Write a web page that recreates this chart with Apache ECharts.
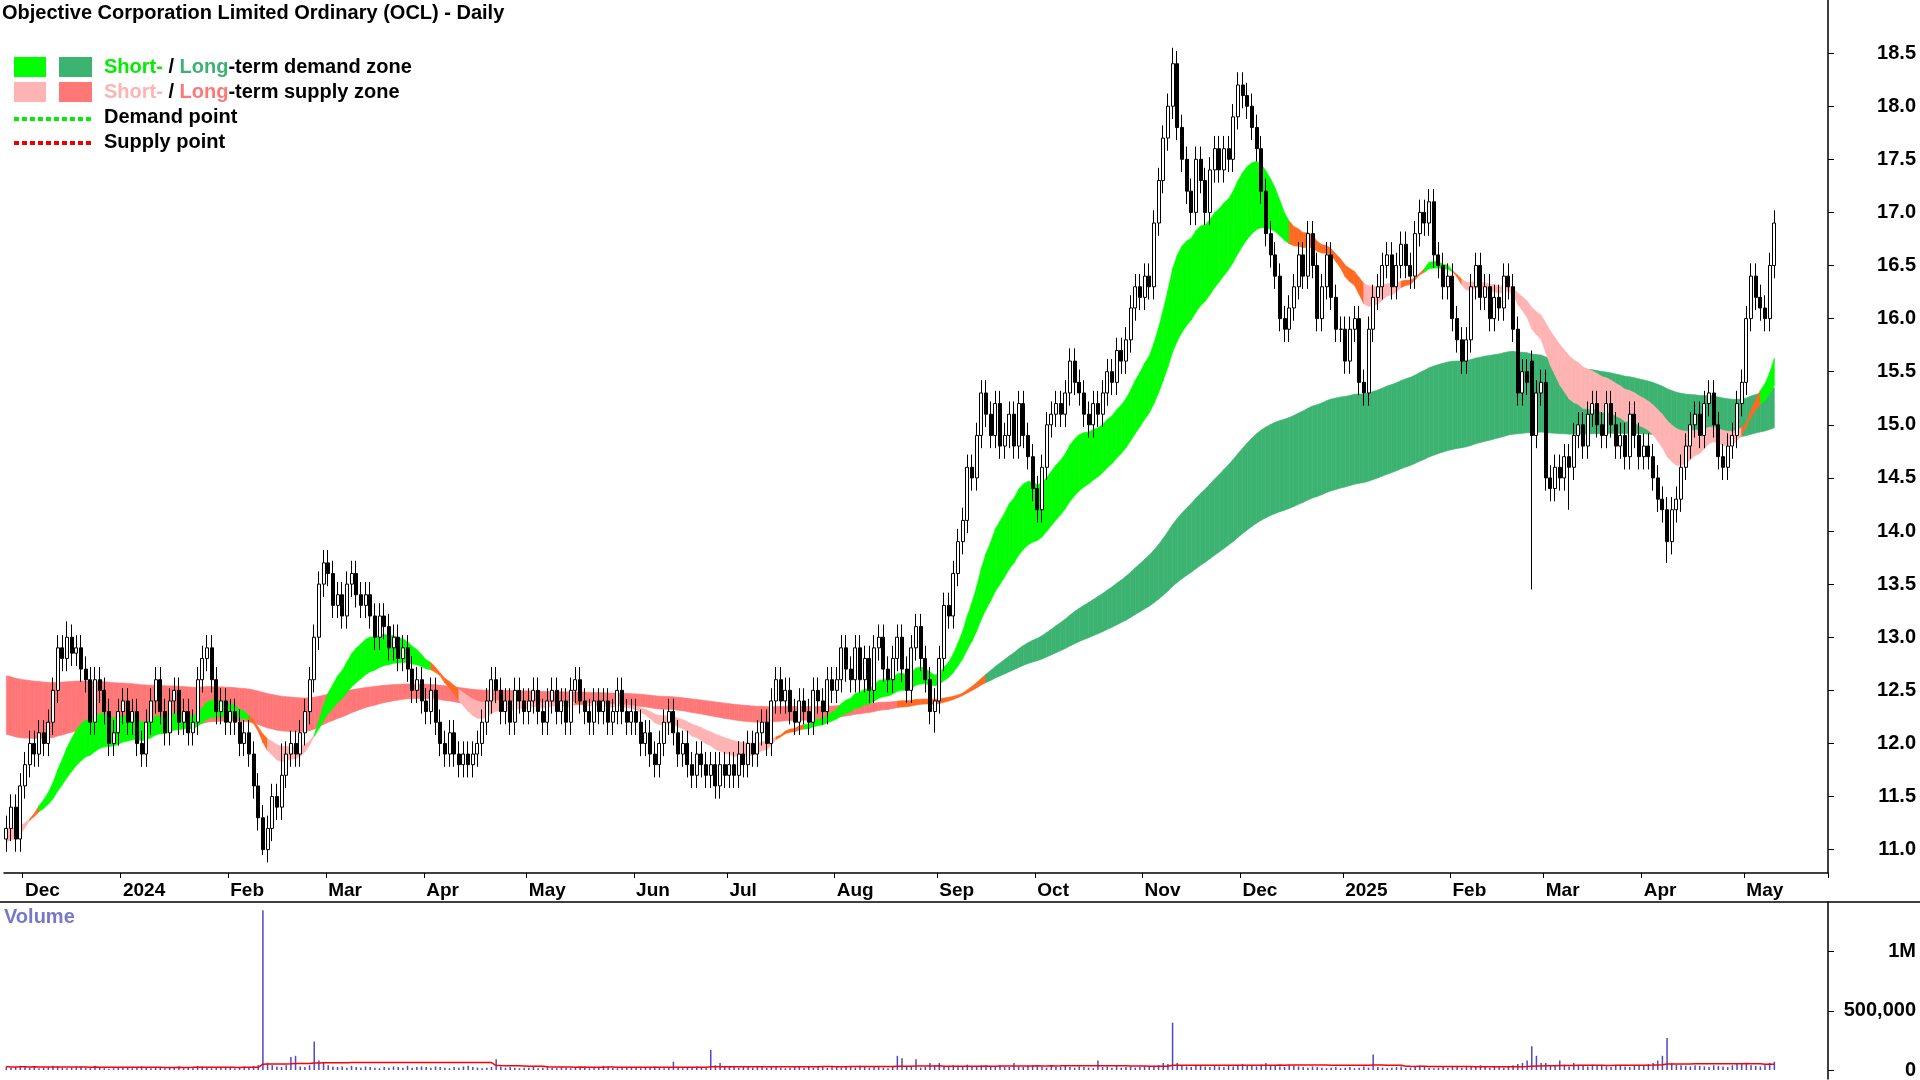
<!DOCTYPE html>
<html><head><meta charset="utf-8">
<script src="https://cdn.jsdelivr.net/npm/echarts@6/dist/echarts.min.js"></script>
<style>html,body{margin:0;padding:0;background:#fff}#c{width:1920px;height:1080px}</style>
</head><body><div id="c"></div>
<script>
// ---- Daily closes by month ----
const m2311=[11.2,11.4,11.1,11.6];
const m2312=[11.8,12.0,11.9,12.1,12.0,12.2,12.5,12.9,12.8,13.0,12.85,12.9,12.7,12.6,12.2,12.6,12.5,12.3,12.0,12.1,12.3];
const m2401=[12.4,12.2,12.3,12.0,11.9,12.2,12.4,12.6,12.3,12.1,12.4,12.5,12.2,12.3,12.1,12.2,12.6,12.8,12.9,12.6,12.3,12.4,12.2];
const m2402=[12.3,12.2,12.0,12.1,11.9,11.6,11.3,11.0,11.2,11.5,11.4,11.7,11.9,12.0,11.9,12.1,12.3,12.6,13.0,13.5,13.7];
const m2403=[13.6,13.3,13.4,13.2,13.5,13.6,13.4,13.3,13.4,13.2,13.0,13.2,13.1,12.9,13.0,12.8,12.9,12.7,12.5,12.6,12.4];
const m2404=[12.3,12.5,12.2,12.0,11.9,12.1,11.9,11.8,11.9,11.8,11.9,12.0,12.2,12.4,12.6,12.5,12.3,12.4,12.2,12.5,12.4,12.3];
const m2405=[12.4,12.5,12.3,12.2,12.4,12.5,12.3,12.4,12.2,12.5,12.6,12.4,12.3,12.2,12.4,12.3,12.4,12.2,12.3,12.5,12.3,12.2,12.3];
const m2406=[12.2,12.0,12.1,11.9,11.8,12.0,12.2,12.3,12.1,11.9,12.0,11.8,11.7,11.9,11.8,11.7,11.8,11.6,11.8,11.7];
const m2407=[11.8,11.7,11.9,11.8,12.0,11.9,12.1,12.2,12.0,12.4,12.6,12.4,12.5,12.3,12.2,12.4,12.3,12.2,12.5,12.4,12.3,12.6,12.5];
const m2408=[12.6,12.9,12.7,12.6,12.9,12.6,12.8,12.5,12.9,13.0,12.7,12.6,12.8,13.0,12.7,12.5,12.9,13.1,12.8,12.6,12.3,12.4];
const m2409=[12.8,13.3,13.2,13.6,13.9,14.1,14.6,14.5,14.9,15.3,15.1,14.9,15.2,14.8,14.9,15.1,14.8,15.2,14.9,14.7,14.4];
const m2410=[14.2,14.6,15.0,15.1,15.2,15.1,15.3,15.6,15.4,15.3,15.1,15.0,15.2,15.1,15.3,15.5,15.4,15.7,15.6,15.8,16.1,16.3,16.2];
const m2411=[16.4,16.3,16.9,17.3,17.7,18.0,18.4,17.8,17.5,17.2,17.0,17.5,17.3,17.0,17.4,17.6,17.4,17.6,17.5,17.9,18.2];
const m2412=[18.1,18.0,17.8,17.6,17.2,16.8,16.6,16.4,16.0,15.9,16.1,16.3,16.6,16.4,16.8,16.5,16.0,16.3,16.6,16.2,15.9,15.9];
const m2501=[15.6,15.9,16.0,15.4,15.3,15.9,16.2,16.3,16.5,16.6,16.3,16.5,16.7,16.5,16.4,16.8,17.0,16.9,17.1,16.6,16.5,16.3,16.4];
const m2502=[16.0,15.8,15.6,15.8,16.3,16.5,16.2,16.3,16.0,16.2,16.1,16.4,16.3,15.9,15.3,15.5,15.4,14.9,15.3,15.4];
const m2503=[14.5,14.4,14.6,14.5,14.7,14.6,14.9,15.0,14.8,15.1,15.2,15.0,14.9,15.2,15.0,14.8,14.9,14.7,15.1,14.9,14.7];
const m2504=[14.8,14.7,14.5,14.3,14.2,13.9,14.2,14.3,14.6,14.8,15.0,15.1,14.9,15.2,15.3,15.0,14.7,14.6,14.8,14.9,15.2,15.4];
const m2505=[16.0,16.4,16.2,16.1,16.0,16.5,16.9];
// ---- Daily volume (thousands) ----
const v2311=[30,20,25,35];
const v2312=[25,20,30,15,20,25,35,30,20,15,20,25,30,20,15,35,20,15,10,15,20];
const v2401=[20,25,15,20,30,20,15,25,20,15,20,25,30,15,20,25,35,30,20,15,20,25,20];
const v2402=[20,15,25,30,20,35,40,1350,60,40,30,25,40,110,120,30,25,40,240,80,60];
const v2403=[40,30,25,30,20,35,25,20,30,25,20,15,25,20,30,25,20,35,20,25,30];
const v2404=[25,20,30,25,20,15,25,20,30,35,25,20,15,20,25,90,30,20,25,20,15,20];
const v2405=[20,25,15,20,30,20,15,25,20,15,20,25,30,15,20,25,35,30,20,15,20,25,20];
const v2406=[20,15,25,20,30,20,15,25,70,20,15,20,25,30,20,25,170,40,60,30];
const v2407=[30,25,20,30,25,20,35,25,20,30,25,20,15,20,25,30,20,35,20,25,30,20,25];
const v2408=[25,20,30,25,20,35,25,20,30,25,20,15,25,120,100,30,25,90,20,25,60,40];
const v2409=[60,30,25,40,35,30,45,30,25,40,35,30,25,40,30,25,60,30,25,35,40];
const v2410=[30,25,20,35,25,30,40,25,20,30,25,20,15,80,25,30,20,35,20,25,30,20,25];
const v2411=[30,25,35,40,60,50,400,60,40,30,25,40,35,30,25,40,30,25,35,30,40];
const v2412=[50,40,35,30,45,60,40,35,30,25,40,35,30,25,20,30,25,20,15,20,25,15];
const v2501=[20,25,15,20,30,20,130,25,20,15,20,25,30,15,20,25,35,30,20,15,20,25,20];
const v2502=[30,25,20,35,25,30,40,25,20,30,25,20,35,40,50,60,80,200,120,60];
const v2503=[60,40,35,80,45,30,60,40,35,30,45,40,35,30,25,40,35,30,25,40,35];
const v2504=[40,50,60,80,120,270,60,45,40,35,30,40,35,30,25,40,35,30,25,40,60,50];
const v2505=[50,40,35,30,40,60,70];
// notable wick extremes [index, high, low]
const wickExtremes=[[55,null,10.95],[250,18.55,null],[327,15.7,13.45],[356,null,13.7],[199,null,12.1],[59,12.0,null],[13,13.15,null],[335,null,14.2]];
const wickSize=0.12;
const shortPeriods=[20,23,26,30,35,40], shortSeeds=[11.05,11.08,11.11,11.14,11.17,11.2];
const longPeriods=[130,145,160,175,195,230], longSeeds=[12.1,12.2,12.3,12.4,12.52,12.65];
const priceTicks=[11,11.5,12,12.5,13,13.5,14,14.5,15,15.5,16,16.5,17,17.5,18,18.5];
const volTicks=[0,500000,1000000];

const closes=[].concat(m2311,m2312,m2401,m2402,m2403,m2404,m2405,m2406,m2407,m2408,m2409,m2410,m2411,m2412,m2501,m2502,m2503,m2504,m2505);
const vols=[].concat(v2311,v2312,v2401,v2402,v2403,v2404,v2405,v2406,v2407,v2408,v2409,v2410,v2411,v2412,v2501,v2502,v2503,v2504,v2505).map(v=>v*1000);
const N=closes.length, PAD=11;
const dates=[];let d=new Date(Date.UTC(2023,10,27));
while(dates.length<N){const wd=d.getUTCDay();if(wd>0&&wd<6)dates.push(new Date(d));d=new Date(d.getTime()+864e5);}
const MN=['Jan','Feb','Mar','Apr','May','Jun','Jul','Aug','Sep','Oct','Nov','Dec'];
const cats=[],labelMap={};
for(let i=0;i<N+PAD;i++){cats.push(String(i));}
for(let i=1;i<N;i++){if(dates[i].getUTCMonth()!==dates[i-1].getUTCMonth()){const m=dates[i].getUTCMonth();labelMap[i]=m===0?String(dates[i].getUTCFullYear()):MN[m];}}
const candles=[];
for(let i=0;i<N;i++){const o=i?closes[i-1]:closes[0]-0.1,c=closes[i];candles.push([o,c,Math.min(o,c)-wickSize,Math.max(o,c)+wickSize]);}
wickExtremes.forEach(([i,h,l])=>{if(h!=null)candles[i][3]=h;if(l!=null)candles[i][2]=l;if(i===327){candles[i][0]=15.6;}});
function emas(periods,seeds){return periods.map((p,k)=>{const a=2/(p+1);let e=seeds[k];return closes.map(c=>(e=e+a*(c-e)));});}
const S=emas(shortPeriods,shortSeeds),L=emas(longPeriods,longSeeds);
// state: 1 = all ordered up (demand), -1 = all ordered down (supply), 0 = tangled
function band(E){const lo=[],hi=[],st=[];for(let i=0;i<N;i++){const v=E.map(e=>e[i]);lo.push(Math.min(...v));hi.push(Math.max(...v));
 let up=true,dn=true;for(let k=0;k<v.length-1;k++){if(v[k]<v[k+1])up=false;if(v[k]>v[k+1])dn=false;}st.push(up?1:dn?-1:0);}return{lo,hi,st};}
const SB=band(S),LB=band(L);
const C={sd:'#00ff00',ld:'#3cb371',ss:'#ffb3b3',ls:'#ff7777',ov:'#ff6a22'};
function segs(B,cd,cs){const r=[];for(let i=0;i<N-1;i++)r.push([i,B.lo[i],B.hi[i],B.lo[i+1],B.hi[i+1],B.st[i]===1?cd:B.st[i]===-1?cs:C.ov]);return r;}
const longData=segs(LB,C.ld,C.ls),shortData=segs(SB,C.sd,C.ss);
const bandColor={0:longData.map(r=>r[5]),1:shortData.map(r=>r[5])};
function renderBand(params,api){const i=api.value(0);const p1=api.coord([i,api.value(1)]),p2=api.coord([i,api.value(2)]),p3=api.coord([i+1,api.value(4)]),p4=api.coord([i+1,api.value(3)]);
 const col=bandColor[params.seriesIndex][params.dataIndex];
 return{type:'polygon',shape:{points:[p1,p2,p3,p4]},style:{fill:col,stroke:col,lineWidth:0.6}};}
const strip=a=>a.map(r=>r.slice(0,5));
const vma=vols.map((v,i)=>{const s=vols.slice(Math.max(0,i-49),i+1);return s.reduce((a,b)=>a+b,0)/s.length;});

const FONT='Liberation Sans, Arial, sans-serif';
const chart=echarts.init(document.getElementById('c'));
chart.setOption({
 animation:false,backgroundColor:'#fff',
 grid:[{left:4,width:1824,top:0,height:873},{left:4,width:1824,top:902,height:178}],
 xAxis:[{type:'category',data:cats,gridIndex:0,boundaryGap:true,
   axisLine:{lineStyle:{color:'#000',width:1.5}},
   axisTick:{show:true,length:5,interval:(i)=>labelMap[i]!==undefined,lineStyle:{color:'#000'}},
   axisLabel:{interval:(i)=>labelMap[i]!==undefined,formatter:(v)=>labelMap[+v]||'',align:'left',margin:8,color:'#000',fontWeight:'bold',fontSize:19,fontFamily:FONT},splitLine:{show:false}},
  {type:'category',data:cats,gridIndex:1,boundaryGap:true,axisLine:{show:false},axisTick:{show:false},axisLabel:{show:false}}],
 yAxis:[{type:'value',gridIndex:0,position:'right',min:10.78,max:19.0,
   axisLine:{show:true,lineStyle:{color:'#000',width:1.5}},
   axisTick:{show:true,length:6,customValues:priceTicks,lineStyle:{color:'#000'}},
   axisLabel:{customValues:priceTicks,formatter:v=>v.toFixed(1),align:'right',margin:88,color:'#000',fontWeight:'bold',fontSize:20,fontFamily:FONT},splitLine:{show:false}},
  {type:'value',gridIndex:1,position:'right',min:-76000,max:1420000,
   axisLine:{show:true,lineStyle:{color:'#000',width:1.5}},
   axisTick:{show:true,length:6,customValues:volTicks,lineStyle:{color:'#000'}},
   axisLabel:{customValues:volTicks,formatter:v=>v===1000000?'1M':v.toLocaleString('en-US'),align:'right',margin:88,color:'#000',fontWeight:'bold',fontSize:20,fontFamily:FONT},splitLine:{show:false}}],
 series:[
  {type:'custom',xAxisIndex:0,yAxisIndex:0,clip:true,renderItem:renderBand,data:strip(longData),z:1},
  {type:'custom',xAxisIndex:0,yAxisIndex:0,clip:true,renderItem:renderBand,data:strip(shortData),z:2},
  {type:'candlestick',xAxisIndex:0,yAxisIndex:0,data:candles,barWidth:3.5,z:5,
   itemStyle:{color:'#ffffff',color0:'#000000',borderColor:'#000000',borderColor0:'#000000',borderWidth:1}},
  {type:'bar',xAxisIndex:1,yAxisIndex:1,data:vols,barWidth:1.5,itemStyle:{color:'#4a4ac8'}},
  {type:'line',xAxisIndex:1,yAxisIndex:1,data:vma,symbol:'none',lineStyle:{color:'#ff0000',width:1.5},z:4}
 ],
 graphic:[
  {type:'line',shape:{x1:0,y1:902,x2:1920,y2:902},style:{stroke:'#000',lineWidth:1.5},z:100},
  {type:'text',left:2,top:3,style:{text:'Objective Corporation Limited Ordinary (OCL) - Daily',font:'bold 20px '+FONT,fill:'#000'}},
  {type:'rect',shape:{x:14,y:57,width:32,height:20},style:{fill:C.sd}},
  {type:'rect',shape:{x:59,y:57,width:33,height:20},style:{fill:C.ld}},
  {type:'rect',shape:{x:14,y:82,width:32,height:20},style:{fill:C.ss}},
  {type:'rect',shape:{x:59,y:82,width:33,height:20},style:{fill:C.ls}},
  {type:'line',shape:{x1:14,y1:119,x2:92,y2:119},style:{stroke:'#00ee00',lineWidth:4,lineDash:[5,3]}},
  {type:'line',shape:{x1:14,y1:143,x2:92,y2:143},style:{stroke:'#ee0000',lineWidth:4,lineDash:[5,3]}},
  {type:'text',left:104,top:57,style:{text:'{g|Short-} / {d|Long}-term demand zone',font:'bold 20px '+FONT,fill:'#000',rich:{g:{fill:'#00ee00',font:'bold 20px '+FONT},d:{fill:C.ld,font:'bold 20px '+FONT}}}},
  {type:'text',left:104,top:82,style:{text:'{p|Short-} / {r|Long}-term supply zone',font:'bold 20px '+FONT,fill:'#000',rich:{p:{fill:'#ffb3b3',font:'bold 20px '+FONT},r:{fill:'#ff7777',font:'bold 20px '+FONT}}}},
  {type:'text',left:104,top:107,style:{text:'Demand point',font:'bold 20px '+FONT,fill:'#000'}},
  {type:'text',left:104,top:132,style:{text:'Supply point',font:'bold 20px '+FONT,fill:'#000'}},
  {type:'text',left:4,top:907,style:{text:'Volume',font:'bold 20px '+FONT,fill:'#7777cc'}}
 ]
});
</script></body></html>
